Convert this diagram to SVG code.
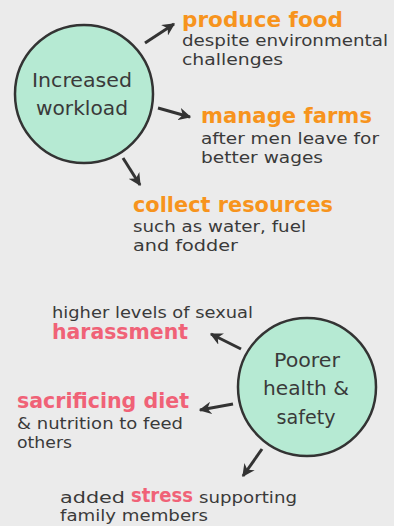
<svg xmlns="http://www.w3.org/2000/svg" width="394" height="526" viewBox="0 0 394 526">
<defs>
<marker id="ah" viewBox="0 0 10 10" refX="9" refY="5" markerWidth="4.2" markerHeight="4.2" orient="auto" markerUnits="strokeWidth">
<path d="M0,0 L10,5 L0,10 L3,5 Z" fill="#333"/>
</marker>
<style>
.t{font-family:"DejaVu Sans",sans-serif;fill:#3a3a3a;font-size:16.5px}
.c{font-family:"DejaVu Sans",sans-serif;fill:#3a3a3a;font-size:19.5px;text-anchor:middle}
.o{font-family:"DejaVu Sans",sans-serif;font-weight:bold;fill:#f7941d;font-size:20.5px}
.p{font-family:"DejaVu Sans",sans-serif;font-weight:bold;fill:#f06277;font-size:20.5px}
.s{font-family:"DejaVu Sans",sans-serif;font-weight:bold;fill:#f06277;font-size:19px}
.n{fill:#b6ead3;stroke:#333;stroke-width:2.5}
.a{stroke:#333;stroke-width:3;fill:none;marker-end:url(#ah)}
</style>
</defs>
<rect width="394" height="526" fill="#ebebeb"/>
<g id="connectors">
<line class="a" x1="145" y1="43" x2="174" y2="24"/>
<line class="a" x1="158" y1="108" x2="190" y2="117"/>
<line class="a" x1="123" y1="158" x2="140" y2="185"/>
<line class="a" x1="241" y1="349" x2="211" y2="334"/>
<line class="a" x1="233" y1="404" x2="200" y2="410"/>
<line class="a" x1="262" y1="449" x2="243" y2="476"/>
</g>
<g id="increased-workload">
<circle class="n" cx="84" cy="94" r="69"/>
<text class="c" x="82" y="87" textLength="100" lengthAdjust="spacingAndGlyphs">Increased</text>
<text class="c" x="82" y="115" textLength="92" lengthAdjust="spacingAndGlyphs">workload</text>
</g>
<g id="produce-food">
<text class="o" x="182" y="27" textLength="161" lengthAdjust="spacingAndGlyphs">produce food</text>
<text class="t" x="182" y="46" textLength="206" lengthAdjust="spacingAndGlyphs">despite environmental</text>
<text class="t" x="182" y="65" textLength="101" lengthAdjust="spacingAndGlyphs">challenges</text>
</g>
<g id="manage-farms">
<text class="o" x="201" y="123" textLength="171" lengthAdjust="spacingAndGlyphs">manage farms</text>
<text class="t" x="201" y="144" textLength="178" lengthAdjust="spacingAndGlyphs">after men leave for</text>
<text class="t" x="201" y="163" textLength="122" lengthAdjust="spacingAndGlyphs">better wages</text>
</g>
<g id="collect-resources">
<text class="o" x="133" y="212" textLength="200" lengthAdjust="spacingAndGlyphs">collect resources</text>
<text class="t" x="133" y="232" textLength="173" lengthAdjust="spacingAndGlyphs">such as water, fuel</text>
<text class="t" x="133" y="251" textLength="105" lengthAdjust="spacingAndGlyphs">and fodder</text>
</g>
<g id="poorer-health">
<circle class="n" cx="307" cy="387" r="69"/>
<text class="c" x="307" y="367" textLength="66" lengthAdjust="spacingAndGlyphs">Poorer</text>
<text class="c" x="306" y="395" textLength="86" lengthAdjust="spacingAndGlyphs">health &amp;</text>
<text class="c" x="306" y="424" textLength="59" lengthAdjust="spacingAndGlyphs">safety</text>
</g>
<g id="harassment">
<text class="t" x="52" y="318" textLength="201" lengthAdjust="spacingAndGlyphs">higher levels of sexual</text>
<text class="p" x="52" y="339" textLength="136" lengthAdjust="spacingAndGlyphs">harassment</text>
</g>
<g id="sacrificing-diet">
<text class="p" x="17" y="408" textLength="172" lengthAdjust="spacingAndGlyphs">sacrificing diet</text>
<text class="t" x="17" y="429" textLength="166" lengthAdjust="spacingAndGlyphs">&amp; nutrition to feed</text>
<text class="t" x="17" y="448" textLength="55" lengthAdjust="spacingAndGlyphs">others</text>
</g>
<g id="stress">
<text class="t" x="60" y="503" textLength="65" lengthAdjust="spacingAndGlyphs">added</text>
<text class="s" x="131" y="502" textLength="62" lengthAdjust="spacingAndGlyphs">stress</text>
<text class="t" x="199" y="503" textLength="98" lengthAdjust="spacingAndGlyphs">supporting</text>
<text class="t" x="60" y="521" textLength="148" lengthAdjust="spacingAndGlyphs">family members</text>
</g>
</svg>
